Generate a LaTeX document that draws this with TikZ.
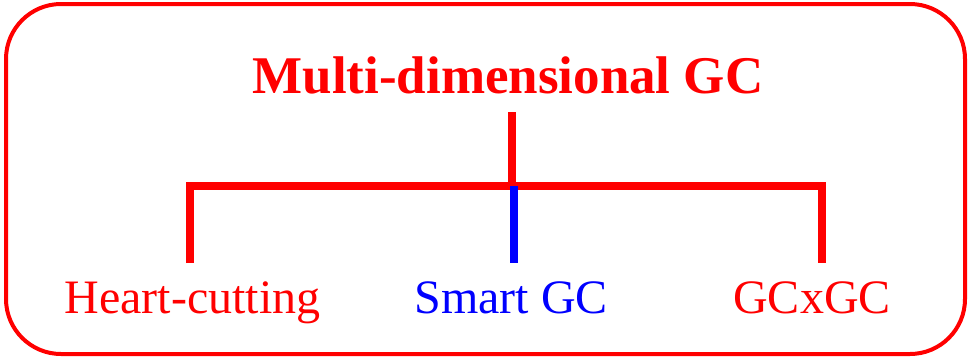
\documentclass[tikz,border=0pt]{standalone}
\usepackage{fontspec}
\setmainfont{Liberation Serif}
\usetikzlibrary{positioning}
\tikzset{
  frame/.style={draw=red, line width=4pt, rounded corners=55pt},
  branch/.style={draw=red, line width=8pt},
  smartbranch/.style={draw=blue, line width=8pt},
  heading/.style={anchor=base, text=red, font=\fontsize{53}{53}\selectfont\bfseries, inner sep=0pt},
  leaf/.style={anchor=base, text=red, font=\fontsize{48}{48}\selectfont, inner sep=0pt}
}
\begin{document}
\begin{tikzpicture}[x=1pt, y=-1pt]
  \useasboundingbox (0,0) rectangle (971,359);
  \draw[frame] (6,4) rectangle (965,354);

  \node[heading] (root) at (508,93) {Multi-dimensional GC};
  \node[leaf] (heart) at (192.5,313) {Heart-cutting};
  \node[leaf, text=blue] (smart) at (511,313) {Smart GC};
  \node[leaf] (gcxgc) at (812,313) {GCxGC};

  \coordinate (stem) at (512,112);
  \coordinate (hub) at (512,185.5);
  \coordinate (heart-end) at (190,263);
  \coordinate (smart-top) at (514,186);
  \coordinate (smart-end) at (514,263);
  \coordinate (gcxgc-end) at (822,263);

  \draw[branch] (stem) -- (hub);
  \draw[branch] (heart-end) |- (hub) -| (gcxgc-end);
  \draw[smartbranch] (smart-top) -- (smart-end);
\end{tikzpicture}
\end{document}
